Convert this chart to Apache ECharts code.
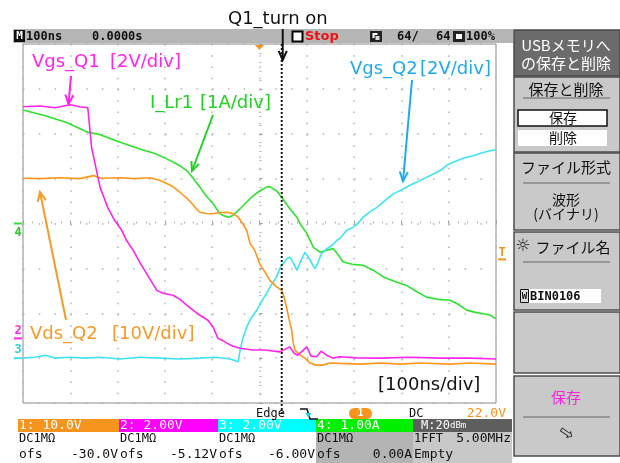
<!DOCTYPE html>
<html>
<head>
<meta charset="utf-8">
<script src="https://cdn.jsdelivr.net/npm/echarts@6/dist/echarts.min.js"></script>
<style>
html,body{margin:0;padding:0;background:#fff;}
#scope{width:620px;height:463px;}
</style>
</head>
<body>
<div id="scope"></div>
<script>
// ---- Acquisition settings (100 ns/div, trigger at screen centre = 0 ns) ----
const timeRange = [-500, 500];          // ns, 10 divisions
const timePerDiv = 100;                 // ns
const cursorTime = 47;                  // ns, Q1 turn-on cursor
const triggerLevel = 22.0;              // V on CH1

// ---- Channel setup: CH1 Vds_Q2, CH2 Vgs_Q1, CH3 Vgs_Q2, CH4 I_Lr1 ----
const channelScale = [10, 2, 2, 1];           // units per division
const channelOffset = [-30, -5.12, -6, 0];    // offset (V or A)
const channelScaleText = ['1: 10.0V', '2: 2.00V', '3: 2.00V', '4: 1.00A'];
const channelOffsetText = ['-30.0V', '-5.12V', '-6.00V', '0.00A'];

// ---- Waveforms (time in ns, value in V or A) ----
const vdsQ2Time = [-500,-464,-422,-380,-351,-337,-295,-263,-232,-210,-196,-183,-168,-155,-143,-134,-126,-113,-98,-84,-69,-56,-45,-37,-27,-20,-10,1,12,22,35,47,52,57,62,68,71,75,86,96,107,119,134,149,170,212,255,297,339,403,445,500];
const vdsQ2Volts = [40.1,40.0,40.2,40.0,40.67,40.1,40.2,40.0,40.2,39.56,38.9,38.2,36.96,35.78,34.44,33.33,32.51,32.22,32.16,32.44,32.51,32.22,31.4,30.22,28.44,25.56,24.0,20.89,19.11,17.33,16.0,15.11,13.56,11.4,8.9,6.22,3.56,1.78,0.67,0.0,-1.1,-1.56,-1.56,-1.1,-1.18,-1.33,-1.1,-1.33,-1.1,-1.33,-1.1,-1.33];

const vgsQ1Time = [-500,-464,-432,-401,-380,-363,-355,-337,-320,-306,-291,-281,-267,-253,-239,-217,-204,-183,-168,-154,-126,-109,-98,-88,-79,-69,-56,-41,-14,12,43,64,73,81,100,109,121,130,142,155,170,205,255,318,382,445,500];
const vgsQ1Volts = [10.32,10.36,10.28,10.41,10.32,10.28,8.51,6.73,5.79,5.25,4.81,4.36,3.92,3.39,2.9,2.14,2.01,1.92,1.74,1.48,1.03,0.81,0.5,0.01,-0.08,-0.21,-0.35,-0.44,-0.52,-0.52,-0.6,-0.38,-0.66,-0.75,-0.38,-0.79,-0.82,-0.57,-0.75,-0.88,-0.82,-0.87,-0.88,-0.84,-0.88,-0.88,-0.92];

const vgsQ2Time = [-500,-475,-453,-432,-401,-369,-337,-295,-253,-210,-168,-126,-94,-62,-45,-41,-35,-27,-18,-6,3,15,24,36,43,50,58,64,71,79,86,96,105,117,124,131,140,153,163,170,184,198,208,219,234,248,265,283,304,320,339,360,382,398,417,434,452,473,487,500];
const vgsQ2Volts = [0,0.04,0.13,0,0.04,0,0.04,-0.04,0.04,0,-0.04,0,0.04,-0.04,-0.16,0.36,0.89,1.39,1.78,2.13,2.49,2.88,3.24,3.61,4.0,4.21,4.44,4.5,4.27,3.91,4.27,4.72,4.44,3.99,4.27,4.65,4.84,5.02,5.24,5.33,5.69,5.84,6.0,6.28,6.53,6.72,7.02,7.32,7.54,7.73,7.91,8.13,8.36,8.62,8.8,8.93,9.02,9.16,9.24,9.28];

const iLr1Time = [-500,-453,-408,-362,-337,-302,-253,-221,-196,-172,-154,-141,-126,-113,-98,-84,-77,-66,-56,-41,-27,-13,1,15,22,29,36,47,64,79,86,100,114,128,140,156,166,177,196,219,240,262,286,311,331,353,377,403,420,438,456,473,487,500];
const iLr1Amps = [2.53,2.4,2.25,2.03,1.98,1.84,1.66,1.56,1.44,1.31,1.18,1.02,0.81,0.62,0.44,0.22,0.18,0.14,0.18,0.33,0.48,0.62,0.73,0.81,0.82,0.77,0.73,0.58,0.33,0.14,-0.01,-0.22,-0.53,-0.64,-0.6,-0.56,-0.69,-0.86,-0.91,-0.93,-1.04,-1.19,-1.29,-1.38,-1.51,-1.64,-1.69,-1.71,-1.8,-1.93,-1.98,-2.01,-2.04,-2.12];

const traceColors = ['#ff961c', '#ff24ec', '#3fe4f2', '#2fe02f'];

// screen divisions from a physical value on channel ch
function toDiv(ch, v) { return (v + channelOffset[ch]) / channelScale[ch]; }
function trace(ch, times, vals) { return times.map((t, i) => [t, toDiv(ch, vals[i])]); }

const chart = echarts.init(document.getElementById('scope'), null, {renderer: 'canvas'});

const lineSeries = (name, ch, data) => ({
  name, type: 'line', data, showSymbol: false, symbol: 'none',
  lineStyle: {color: traceColors[ch], width: 1.6}, itemStyle: {color: traceColors[ch]},
  animation: false, silent: true
});

chart.setOption({
  animation: false,
  backgroundColor: '#ffffff',
  grid: {left: 23, top: 44, width: 473, height: 359, show: true, borderColor: '#8a8a8a', borderWidth: 1, backgroundColor: '#ffffff', outerBoundsMode: 'none'},
  xAxis: {
    type: 'value', min: timeRange[0], max: timeRange[1], interval: timePerDiv,
    axisLabel: {show: false},
    axisLine: {show: false, onZero: true},
    axisTick: {show: true, inside: true, length: 3, lineStyle: {color: '#9a9a9a'}},
    minorTick: {show: true, splitNumber: 5, length: 2, lineStyle: {color: '#b0b0b0'}},
    splitLine: {show: true, lineStyle: {color: '#b3b3b3', width: 1.5, type: [1.5, 9.75]}}
  },
  yAxis: {
    type: 'value', min: -4, max: 4, interval: 1,
    axisLabel: {show: false},
    axisLine: {show: false, onZero: true},
    axisTick: {show: true, inside: true, length: 3, lineStyle: {color: '#9a9a9a'}},
    minorTick: {show: true, splitNumber: 5, length: 2, lineStyle: {color: '#b0b0b0'}},
    splitLine: {show: true, lineStyle: {color: '#b3b3b3', width: 1.5, type: [1.5, 14.27]}}
  },
  series: [
    lineSeries('I_Lr1', 3, trace(3, iLr1Time, iLr1Amps)),
    lineSeries('Vgs_Q2', 2, trace(2, vgsQ2Time, vgsQ2Volts)),
    lineSeries('Vds_Q2', 0, trace(0, vdsQ2Time, vdsQ2Volts)),
    lineSeries('Vgs_Q1', 1, trace(1, vgsQ1Time, vgsQ1Volts))
  ]
});

// ---------- screen furniture ----------
const MONO = '"DejaVu Sans Mono", monospace';
const SANS = '"DejaVu Sans", sans-serif';
const JP = '"Noto Sans CJK JP", sans-serif';

function txt(x, y, s, font, fill, align) {
  return {type: 'text', x, y, z: 20, silent: true,
    style: {text: s, font, fill, align: align || 'left', verticalAlign: 'middle', textAlign: align || 'left', textVerticalAlign: 'middle'}};
}
function rect(x, y, w, h, fill, stroke, lw, r) {
  return {type: 'rect', z: 5, silent: true, shape: {x, y, width: w, height: h, r: r || 0},
    style: {fill: fill || null, stroke: stroke || null, lineWidth: lw || 1}};
}
function line(x1, y1, x2, y2, stroke, lw, dash) {
  return {type: 'line', z: 20, silent: true, shape: {x1, y1, x2, y2},
    style: {stroke, lineWidth: lw || 1, lineDash: dash || null}};
}
function arrow(x1, y1, x2, y2, color) {
  const a = Math.atan2(y2 - y1, x2 - x1), L = 10, s = 0.42;
  const p1 = [x2 - L * Math.cos(a - s), y2 - L * Math.sin(a - s)];
  const p2 = [x2 - L * Math.cos(a + s), y2 - L * Math.sin(a + s)];
  return [
    line(x1, y1, x2, y2, color, 2),
    {type: 'polyline', z: 20, silent: true, shape: {points: [p1, [x2, y2], p2]}, style: {stroke: color, lineWidth: 2, fill: null}}
  ];
}

const g = [];

// top status bar
g.push(rect(13, 29, 500, 14, '#b6b6b6'));
g.push(rect(14, 30, 11, 12, '#111'));
g.push(txt(19.5, 36.5, 'M', 'bold 11px ' + MONO, '#fff', 'center'));
g.push(txt(26, 36.5, '100ns', 'bold 12px ' + MONO, '#111'));
g.push(txt(92, 36.5, '0.0000s', 'bold 12px ' + MONO, '#111'));
g.push(rect(292.5, 31.5, 10, 10, '#fff', '#000', 2));
g.push(txt(305, 36.5, 'Stop', 'bold 13px ' + SANS, '#ee1111'));
g.push(rect(370, 31, 12, 11, '#222'));
g.push(rect(372.5, 33, 5, 5, '#fff'));
g.push(rect(375, 35.5, 5, 5, '#ddd', '#222', 1));
g.push(txt(397, 36.5, '64/', 'bold 12px ' + MONO, '#111'));
g.push(txt(436, 36.5, '64', 'bold 12px ' + MONO, '#111'));
g.push(rect(453, 31, 12, 11, '#222'));
g.push(rect(456, 34, 6, 5, '#fff'));
g.push(txt(466, 36.5, '100%', 'bold 12px ' + MONO, '#111'));

// annotations
g.push(txt(228, 19, 'Q1_turn on', '18px ' + SANS, '#111'));
g.push(txt(32, 62, 'Vgs_Q1', '18px ' + SANS, traceColors[1]));
g.push(txt(110, 62, '[2V/div]', '18px ' + SANS, traceColors[1]));
g.push(...arrow(71, 76, 68.5, 104, traceColors[1]));
g.push(txt(150, 103.5, 'I_Lr1', '18px ' + SANS, '#22cf22'));
g.push(txt(200, 103.5, '[1A/div]', '18px ' + SANS, '#22cf22'));
g.push(...arrow(213, 115, 192, 171, '#22cf22'));
g.push(txt(350, 69, 'Vgs_Q2', '18px ' + SANS, '#1eaaea'));
g.push(txt(420, 69, '[2V/div]', '18px ' + SANS, '#1eaaea'));
g.push(...arrow(412, 80, 403, 181, '#1eaaea'));
g.push(txt(30, 334, 'Vds_Q2', '18px ' + SANS, '#f59a28'));
g.push(txt(112, 334, '[10V/div]', '18px ' + SANS, '#f59a28'));
g.push(...arrow(66, 320, 40, 192, '#f59a28'));
g.push(txt(378, 385, '[100ns/div]', '18px ' + SANS, '#111'));

// right-hand soft-key menu
const MX = 514, MW = 106, MC = 566;
g.push(rect(MX, 30, MW, 46, '#6b6b6b', '#4a4a4a', 1.5));
g.push(txt(MC, 45, 'USBメモリへ', '15px ' + JP, '#fff', 'center'));
g.push(txt(MC, 63, 'の保存と削除', '15px ' + JP, '#fff', 'center'));

g.push(rect(MX, 77, MW, 75, '#c9c9c9', '#4e4e4e', 1.5));
g.push(txt(MC, 89, '保存と削除', '15px ' + JP, '#111', 'center'));
g.push(line(523, 98, 610, 98, '#666', 1));
g.push(rect(518, 110, 89, 16, '#fff', '#111', 1.5));
g.push(txt(563, 118, '保存', '14px ' + JP, '#111', 'center'));
g.push(rect(518, 130, 89, 16, '#fff'));
g.push(txt(563, 138, '削除', '14px ' + JP, '#111', 'center'));

g.push(rect(MX, 153, MW, 77, '#c9c9c9', '#4e4e4e', 1.5));
g.push(txt(MC, 167, 'ファイル形式', '15px ' + JP, '#111', 'center'));
g.push(line(523, 183, 610, 183, '#666', 1));
g.push(txt(MC, 200, '波形', '14px ' + JP, '#111', 'center'));
g.push(txt(MC, 214, '(バイナリ)', '14px ' + JP, '#111', 'center'));

g.push(rect(MX, 232, MW, 78, '#c9c9c9', '#4e4e4e', 1.5));
g.push(txt(523, 247, '☼', '17px ' + SANS, '#111', 'center'));
g.push(txt(573, 247, 'ファイル名', '15px ' + JP, '#111', 'center'));
g.push(line(523, 262, 610, 262, '#666', 1));
g.push(rect(520, 289, 81, 14, '#fff'));
g.push(rect(520.5, 289.5, 8, 13, '#ddd', '#111', 1));
g.push(txt(524.5, 296.5, 'W', 'bold 9px ' + MONO, '#111', 'center'));
g.push(txt(530, 296.5, 'BIN0106', 'bold 12px ' + MONO, '#111'));

g.push(rect(MX, 312, MW, 61, '#c9c9c9', '#4e4e4e', 1.5));

g.push(rect(MX, 376, MW, 80, '#c9c9c9', '#4e4e4e', 1.5));
g.push(txt(MC, 397, '保存', '15px ' + JP, '#ff22dd', 'center'));
g.push(line(523, 417, 610, 417, '#666', 1));
g.push({type: 'text', x: MC, y: 434, z: 20, rotation: -0.6, silent: true,
  style: {text: '⇨', font: '18px ' + SANS, fill: '#222', align: 'center', verticalAlign: 'middle', textAlign: 'center', textVerticalAlign: 'middle'}});

// bottom information row
g.push(txt(256, 414, 'Edge', '12px ' + MONO, '#111'));
g.push({type: 'polyline', z: 20, silent: true, shape: {points: [[300, 409], [307, 409], [310, 419], [318, 419]]}, style: {stroke: '#111', lineWidth: 1.5, fill: null}});
g.push({type: 'polygon', z: 21, silent: true, shape: {points: [[305.5, 413], [311.5, 413], [308.5, 418]]}, style: {fill: '#1ec8e8'}});
g.push(rect(349, 408, 23, 11, '#f7941d', null, 1, 5.5));
g.push(txt(360.5, 413.5, '1', 'bold 10px ' + MONO, '#fff', 'center'));
g.push(txt(409, 414, 'DC', '12px ' + MONO, '#111'));
g.push(txt(506, 414, triggerLevel.toFixed(1) + 'V', '13px ' + MONO, '#f5921e', 'right'));

const boxEdges = [18, 119, 218, 316, 413, 512];
const boxColors = ['#f7941d', '#ff00ff', '#00ffff', '#00f000'];
for (let i = 0; i < 4; i++) {
  const x0 = boxEdges[i], x1 = boxEdges[i + 1];
  g.push(rect(x0, 419, x1 - x0, 13, boxColors[i]));
  g.push(rect(x0, 432, x1 - x0, 31, i === 3 ? '#b4b4b4' : '#ffffff'));
  g.push(txt(x0 + 1, 425.5, channelScaleText[i], '13px ' + MONO, '#fff'));
  g.push(txt(x0 + 1, 438.5, 'DC1MΩ', '12px ' + MONO, '#111'));
  g.push(txt(x0 + 1, 455, 'ofs', '13px ' + MONO, '#111'));
  g.push(txt(x1 - 1, 455, channelOffsetText[i], '13px ' + MONO, '#111', 'right'));
}
g.push(rect(413, 419, 99, 13, '#5e5e5e'));
g.push(rect(413, 432, 99, 31, '#c8c8c8'));
g.push(txt(421, 425.5, 'M:20', '12px ' + MONO, '#fff'));
g.push(txt(450, 426, 'dBm', '9px ' + MONO, '#fff'));
g.push(txt(414, 438.5, '1FFT', '12px ' + MONO, '#111'));
g.push(txt(511, 438.5, '5.00MHz', '13px ' + MONO, '#111', 'right'));
g.push(txt(414, 455, 'Empty', '13px ' + MONO, '#111'));

// items positioned through the axes
const toPx = (t, d) => chart.convertToPixel({gridIndex: 0}, [t, d]);
const gridTopPx = toPx(0, 4);
const cursorX = toPx(cursorTime, 0)[0];
g.push(line(cursorX, gridTopPx[1], cursorX, 414, '#1a1a1a', 2, [2, 2]));
g.push(...arrow(cursorX + 1, 29, cursorX + 1, 60, '#111'));

g.push({type: 'polygon', z: 21, silent: true, shape: {points: [[gridTopPx[0] - 4.5, 45], [gridTopPx[0] + 4.5, 45], [gridTopPx[0], 50]]}, style: {fill: '#f7941d'}});

// channel ground markers on the left edge
const gndPx = (ch) => toPx(timeRange[0], toDiv(ch, 0))[1];
const y4 = gndPx(3), y2 = gndPx(1), y3 = gndPx(2);
g.push(line(14, y4, 22, y4, traceColors[3], 2));
g.push(txt(18, y4 + 9, '4', 'bold 12px ' + MONO, '#22cc22', 'center'));
g.push(line(14, y2, 22, y2, traceColors[1], 2));
g.push(txt(18, y2 - 8, '2', 'bold 12px ' + MONO, traceColors[1], 'center'));
g.push(line(14, y3, 22, y3, traceColors[2], 2));
g.push(txt(18, y3 - 8, '3', 'bold 12px ' + MONO, '#30d0e0', 'center'));

// trigger level marker on the right edge
const yTrig = toPx(timeRange[1], toDiv(0, triggerLevel))[1];
const xRight = toPx(timeRange[1], 0)[0];
g.push(line(xRight + 2, yTrig, xRight + 10, yTrig, '#f5921e', 2));
g.push(txt(xRight + 6, yTrig - 7, 'T', 'bold 12px ' + MONO, '#f5921e', 'center'));

chart.setOption({graphic: {elements: g}});
</script>
</body>
</html>
